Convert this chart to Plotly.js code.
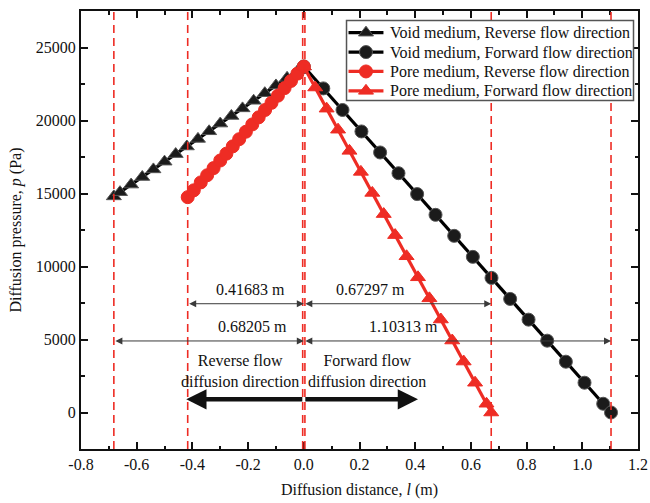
<!DOCTYPE html>
<html>
<head>
<meta charset="utf-8">
<script src="https://cdn.plot.ly/plotly-3.0.1.min.js"></script>
<style>
  html, body { margin: 0; padding: 0; background: #fff; }
  #chart { width: 650px; height: 503px; }
</style>
</head>
<body>
<div id="chart"></div>
<script>
// Diffusion pressure along the diffusion distance for void and pore media

// Void medium, reverse flow direction
const voidRevX = [-0.68205, -0.66, -0.62, -0.58, -0.54, -0.50, -0.46, -0.42, -0.38, -0.34,
                  -0.30, -0.26, -0.22, -0.18, -0.14, -0.10, -0.06, -0.02, 0];
const voidRevY = [14800, 15090, 15610, 16130, 16650, 17180, 17700, 18220, 18740, 19260,
                  19790, 20310, 20830, 21350, 21870, 22400, 22920, 23440, 23700];

// Void medium, forward flow direction
const voidFwdX = [0, 0.070, 0.139, 0.207, 0.274, 0.340, 0.407, 0.473, 0.540, 0.607,
                  0.674, 0.741, 0.807, 0.874, 0.941, 1.008, 1.075, 1.10313];
const voidFwdY = [23700, 22200, 20720, 19250, 17810, 16390, 14960, 13540, 12100, 10660,
                  9220, 7780, 6360, 4920, 3480, 2040, 600, 0];

// Pore medium, reverse flow direction
const poreRevX = [-0.41683, -0.395, -0.37, -0.347, -0.324, -0.30, -0.278, -0.255, -0.232, -0.208,
                  -0.185, -0.162, -0.139, -0.116, -0.093, -0.069, -0.046, -0.023, 0];
const poreRevY = [14750, 15220, 15760, 16250, 16740, 17260, 17730, 18230, 18720, 19230,
                  19730, 20220, 20720, 21210, 21700, 22220, 22710, 23210, 23700];

// Pore medium, forward flow direction
const poreFwdX = [0, 0.041, 0.082, 0.123, 0.164, 0.205, 0.246, 0.287, 0.328, 0.369,
                  0.410, 0.451, 0.492, 0.533, 0.574, 0.615, 0.656, 0.67297];
const poreFwdY = [23700, 22260, 20810, 19370, 17920, 16480, 15040, 13590, 12150, 10700,
                  9260, 7820, 6370, 4930, 3490, 2040, 600, 0];

const seriesNames = [
  'Void medium, Reverse flow direction',
  'Void medium, Forward flow direction',
  'Pore medium, Reverse flow direction',
  'Pore medium, Forward flow direction'
];

// Diffusion extents (m) and the levels of the dimension arrows (Pa)
const extentVoidRev = -0.68205;
const extentPoreRev = -0.41683;
const extentPoreFwd = 0.67297;
const extentVoidFwd = 1.10313;
const extentLabels = ['0.41683 m', '0.67297 m', '0.68205 m', '1.10313 m'];
const upperDimLevel = 7450;
const lowerDimLevel = 4900;

const xTickVals = [-0.8, -0.6, -0.4, -0.2, 0, 0.2, 0.4, 0.6, 0.8, 1.0, 1.2];
const xTickText = ['-0.8', '-0.6', '-0.4', '-0.2', '0.0', '0.2', '0.4', '0.6', '0.8', '1.0', '1.2'];
const yTickVals = [0, 5000, 10000, 15000, 20000, 25000];
const yTickText = ['0', '5000', '10000', '15000', '20000', '25000'];

const BLACK = '#1b1b1b';
const RED = '#ee2c24';
const FONT = 'Liberation Serif, Times New Roman, serif';

// Plot frame in pixels, used to place the hand-built legend
const W = 650, H = 503;
const M = { l: 80.5, r: 11.5, t: 11, b: 53.7 };
const plotW = W - M.l - M.r, plotH = H - M.t - M.b;
function paperX(px) { return (px - M.l) / plotW; }
function paperY(py) { return (H - M.b - py) / plotH; }

const styles = [
  { color: BLACK, line: '#000', symbol: 'triangle-up', edge: '#555' },
  { color: BLACK, line: '#000', symbol: 'circle', edge: '#555' },
  { color: RED, line: RED, symbol: 'circle', edge: RED },
  { color: RED, line: RED, symbol: 'triangle-up', edge: RED }
];
const MARKER_SIZE = 13;
const LINE_W = 3.2;

function series(x, y, i) {
  const s = styles[i];
  return {
    type: 'scatter', mode: 'lines+markers', x: x, y: y, name: seriesNames[i],
    showlegend: false,
    line: { color: s.line, width: LINE_W },
    marker: { symbol: s.symbol, size: MARKER_SIZE, color: s.color, line: { color: s.edge, width: 1 } }
  };
}

const traces = [
  series(voidRevX, voidRevY, 0),
  series(voidFwdX, voidFwdY, 1),
  series(poreRevX, poreRevY, 2),
  series(poreFwdX, poreFwdY, 3)
];

// Red dashed guide lines at every diffusion extent (the pair at 0 marks both sides)
const guideXs = [extentVoidRev, extentPoreRev, -0.004, 0.004, extentPoreFwd, extentVoidFwd];
const shapes = guideXs.map(function (gx) {
  return {
    type: 'line', xref: 'x', yref: 'paper', x0: gx, x1: gx, y0: 0, y1: 1,
    layer: 'above',
    line: { color: RED, width: 1.6, dash: '8px,5px' }
  };
});

// Legend box, line samples and symbols
const legBox = { x0: 346.5, x1: 634, y0: 20.5, y1: 100.5 };
const legRow0 = 32.7, legRowStep = 19.4;
const legLine = { x0: 348.5, x1: 383.5, mid: 366 };
const legTextX = 388;

shapes.push({
  type: 'rect', xref: 'paper', yref: 'paper', layer: 'above',
  x0: paperX(legBox.x0), x1: paperX(legBox.x1), y0: paperY(legBox.y1), y1: paperY(legBox.y0),
  fillcolor: '#fff', line: { color: '#555', width: 1.5 }
});

const r = MARKER_SIZE / 2, rt = r * 2 / Math.sqrt(3);
const legendAnnotations = [];
styles.forEach(function (s, i) {
  const rowY = legRow0 + i * legRowStep;
  shapes.push({
    type: 'line', xref: 'paper', yref: 'paper', layer: 'above',
    x0: paperX(legLine.x0), x1: paperX(legLine.x1), y0: paperY(rowY), y1: paperY(rowY),
    line: { color: s.line, width: LINE_W }
  });
  const sym = {
    xref: 'paper', yref: 'paper', layer: 'above',
    xsizemode: 'pixel', ysizemode: 'pixel',
    xanchor: paperX(legLine.mid), yanchor: paperY(rowY),
    fillcolor: s.color, line: { color: s.edge, width: 1 }
  };
  if (s.symbol === 'circle') {
    sym.type = 'circle'; sym.x0 = -r; sym.x1 = r; sym.y0 = -r; sym.y1 = r;
  } else {
    sym.type = 'path';
    sym.path = 'M' + (-rt) + ',' + (-r / 2) + 'L' + rt + ',' + (-r / 2) + 'L0,' + r + 'Z';
  }
  shapes.push(sym);
  legendAnnotations.push({
    xref: 'paper', yref: 'paper', x: paperX(legTextX), y: paperY(rowY),
    xanchor: 'left', yanchor: 'middle', showarrow: false, text: seriesNames[i],
    font: { family: FONT, size: 16, color: '#111' }
  });
});

function dimArrow(x0, x1, y) {
  return {
    x: x1, y: y, ax: x0, ay: y, xref: 'x', yref: 'y', axref: 'x', ayref: 'y',
    text: '', showarrow: true, arrowside: 'end+start',
    arrowhead: 2, startarrowhead: 2, arrowsize: 1.4, startarrowsize: 1.4,
    arrowwidth: 1, arrowcolor: '#3a3a3a', standoff: 0, startstandoff: 0
  };
}

function bigArrow(x0, x1, y) {
  return {
    x: x1, y: y, ax: x0, ay: y, xref: 'x', yref: 'y', axref: 'x', ayref: 'y',
    text: '', showarrow: true, arrowhead: 2, arrowsize: 0.9,
    arrowwidth: 4.5, arrowcolor: '#111', standoff: 0
  };
}

function label(text, x, y) {
  return {
    x: x, y: y, xref: 'x', yref: 'y', text: text, showarrow: false,
    font: { family: FONT, size: 16, color: '#111' }, align: 'center'
  };
}

const annotations = [
  dimArrow(extentPoreRev, 0, upperDimLevel),
  dimArrow(0, extentPoreFwd, upperDimLevel),
  dimArrow(extentVoidRev, 0, lowerDimLevel),
  dimArrow(0, extentVoidFwd, lowerDimLevel),
  label(extentLabels[0], -0.192, 8420),
  label(extentLabels[1], 0.241, 8420),
  label(extentLabels[2], -0.185, 5880),
  label(extentLabels[3], 0.357, 5880),
  label('Reverse flow<br>diffusion direction', -0.23, 2860),
  label('Forward flow<br>diffusion direction', 0.228, 2860),
  bigArrow(0, -0.422, 900),
  bigArrow(0, 0.41, 900)
].concat(legendAnnotations);

const axisCommon = {
  showline: true, linecolor: '#111', linewidth: 2, mirror: 'allticks',
  ticks: 'inside', ticklen: 7, tickwidth: 2, tickcolor: '#111',
  showgrid: false, zeroline: false,
  tickfont: { family: FONT, size: 16, color: '#111' }
};

const layout = {
  width: W, height: H,
  margin: M,
  paper_bgcolor: '#fff', plot_bgcolor: '#fff',
  font: { family: FONT, color: '#111' },
  showlegend: false,
  xaxis: Object.assign({}, axisCommon, {
    range: [-0.8, 1.2], tickmode: 'array', tickvals: xTickVals, ticktext: xTickText,
    minor: { dtick: 0.1, ticks: 'inside', ticklen: 3.5, tickwidth: 2, tickcolor: '#111' },
    title: { text: 'Diffusion distance, <i>l</i> (m)', font: { family: FONT, size: 16, color: '#111' }, standoff: 12 }
  }),
  yaxis: Object.assign({}, axisCommon, {
    range: [-2500, 27500], tickmode: 'array', tickvals: yTickVals, ticktext: yTickText,
    minor: { dtick: 2500, ticks: 'inside', ticklen: 3.5, tickwidth: 2, tickcolor: '#111' },
    title: { text: 'Diffusion pressure, <i>p</i> (Pa)', font: { family: FONT, size: 16, color: '#111' }, standoff: 10 }
  }),
  shapes: shapes,
  annotations: annotations
};

Plotly.newPlot('chart', traces, layout, { displayModeBar: false, staticPlot: true });
</script>
</body>
</html>
